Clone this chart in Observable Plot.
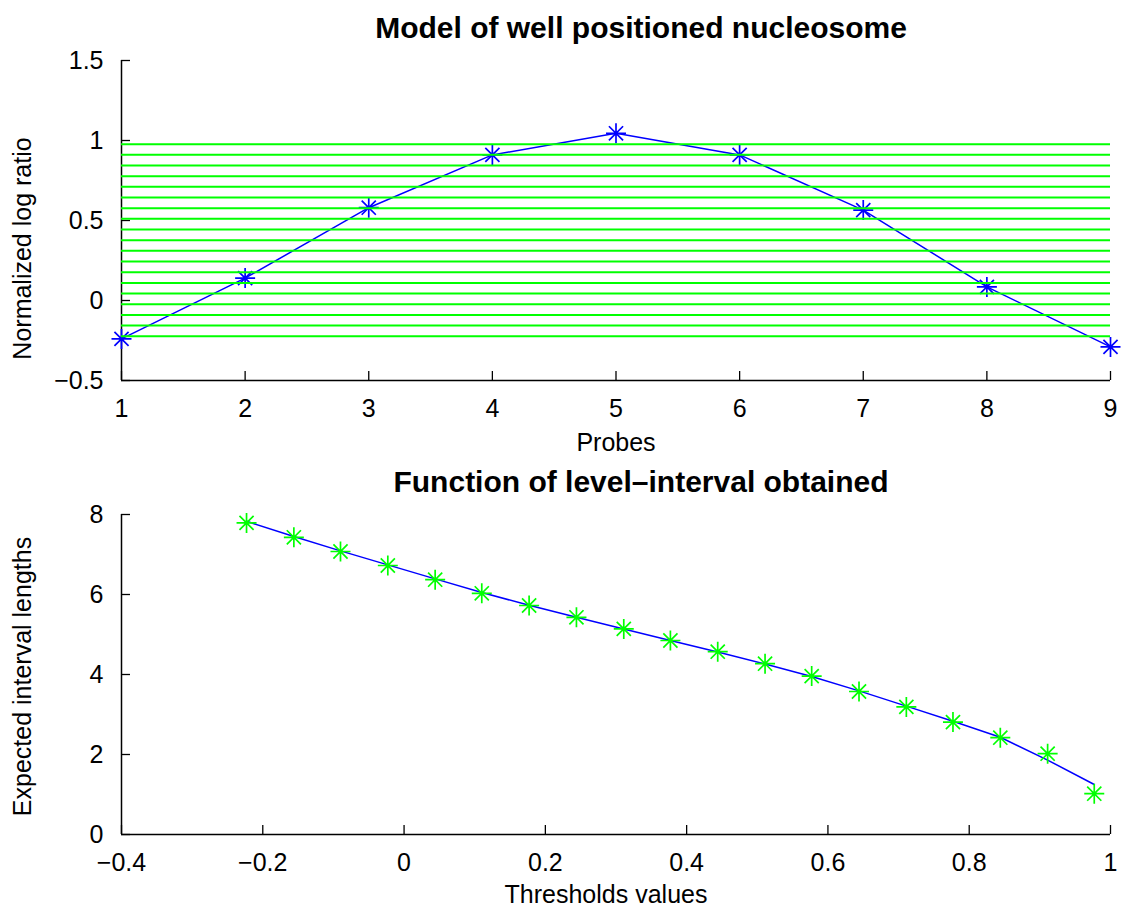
<!DOCTYPE html>
<html>
<head>
<meta charset="utf-8">
<script src="https://cdn.jsdelivr.net/npm/d3@7"></script>
<script src="https://cdn.jsdelivr.net/npm/@observablehq/plot@0.6"></script>
<style>
  html, body { margin: 0; padding: 0; background: white; }
  svg { display: block; }
</style>
</head>
<body>
<div id="chart"></div>
<script>
// ---------- data ----------
const topTitle = "Model of well positioned nucleosome";
const topXLabel = "Probes";
const topYLabel = "Normalized log ratio";
const probes = [1, 2, 3, 4, 5, 6, 7, 8, 9];
const logRatio = [-0.24, 0.14, 0.58, 0.91, 1.045, 0.91, 0.565, 0.085, -0.29];
const levelLines = [-0.223, -0.156, -0.090, -0.023, 0.044, 0.110, 0.177, 0.244, 0.311, 0.377,
                    0.444, 0.511, 0.577, 0.644, 0.711, 0.777, 0.844, 0.911, 0.977];
const topXTicks = [1, 2, 3, 4, 5, 6, 7, 8, 9];
const topYTicks = [-0.5, 0, 0.5, 1, 1.5];

const botTitle = "Function of level\u2013interval obtained";
const botXLabel = "Thresholds values";
const botYLabel = "Expected interval lengths";
const thresholds = [-0.223, -0.156, -0.090, -0.023, 0.044, 0.110, 0.177, 0.244, 0.311, 0.377,
                    0.444, 0.511, 0.577, 0.644, 0.711, 0.777, 0.844, 0.911, 0.977];
const expectedLengths = [7.79, 7.43, 7.075, 6.725, 6.37, 6.03, 5.725, 5.43, 5.14, 4.85,
                         4.57, 4.27, 3.96, 3.575, 3.19, 2.81, 2.42, 2.02, 1.02];
const fittedLengths = [7.83, 7.45, 7.09, 6.74, 6.39, 6.05, 5.73, 5.43, 5.14, 4.85,
                       4.56, 4.26, 3.95, 3.59, 3.21, 2.83, 2.43, 1.86, 1.25];
const botXTicks = [-0.4, -0.2, 0, 0.2, 0.4, 0.6, 0.8, 1];
const botYTicks = [0, 2, 4, 6, 8];

// ---------- helpers ----------
const BLUE = "#0000ff", GREEN = "#00ff00";
const FONT = "'Liberation Sans', Arial, Helvetica, sans-serif";
const asterisk = {
  draw(ctx, size) {
    const r = Math.sqrt(size / Math.PI);
    const d = r * Math.SQRT1_2;
    ctx.moveTo(-r, 0); ctx.lineTo(r, 0);
    ctx.moveTo(0, -r); ctx.lineTo(0, r);
    ctx.moveTo(-d, -d); ctx.lineTo(d, d);
    ctx.moveTo(-d, d); ctx.lineTo(d, -d);
  }
};
const fmt = d => String(d).replace("-", "\u2212");

const topData = probes.map((p, i) => ({x: p, y: logRatio[i]}));
const botData = thresholds.map((t, i) => ({x: t, y: expectedLengths[i], f: fittedLengths[i]}));

const common = {
  width: 1123,
  marginLeft: 121,
  marginRight: 13,
  style: {fontFamily: FONT, fontSize: "25px", color: "black", background: "white", overflow: "visible"}
};

const topPlot = Plot.plot({
  ...common,
  height: 460,
  marginTop: 60,
  marginBottom: 80,
  x: {domain: [1, 9], label: null},
  y: {domain: [-0.5, 1.5], label: null},
  marks: [
    Plot.axisX({ticks: topXTicks, tickSize: -9, tickPadding: 28, tickFormat: fmt, strokeWidth: 1.3}),
    Plot.axisY({ticks: topYTicks, tickSize: -9, tickPadding: 27, tickFormat: fmt, strokeWidth: 1.3}),
    Plot.ruleX([1], {stroke: "black", strokeWidth: 1.5}),
    Plot.ruleY([-0.5], {stroke: "black", strokeWidth: 1.5}),
    Plot.line(topData, {x: "x", y: "y", stroke: BLUE, strokeWidth: 1.5}),
    Plot.dot(topData, {x: "x", y: "y", r: 10, symbol: asterisk, fill: "none", stroke: BLUE, strokeWidth: 1.7}),
    Plot.ruleY(levelLines, {x1: 1, x2: 9, stroke: GREEN, strokeWidth: 2}),
    Plot.text([topTitle], {text: d => d, frameAnchor: "top", dx: 25, dy: -44, fontSize: 30, fontWeight: "bold", fill: "black"}),
    Plot.text([topXLabel], {text: d => d, frameAnchor: "bottom", dx: 0, dy: 70, fontSize: 25, fill: "black"}),
    Plot.text([topYLabel], {text: d => d, frameAnchor: "left", textAnchor: "middle", dx: -99, dy: 28, rotate: -90, fontSize: 25, fill: "black"})
  ]
});

const botPlot = Plot.plot({
  ...common,
  height: 455,
  marginTop: 54,
  marginBottom: 81,
  x: {domain: [-0.4, 1], label: null},
  y: {domain: [0, 8], label: null},
  marks: [
    Plot.axisX({ticks: botXTicks, tickSize: -9, tickPadding: 28, tickFormat: fmt, strokeWidth: 1.3}),
    Plot.axisY({ticks: botYTicks, tickSize: -9, tickPadding: 27, tickFormat: fmt, strokeWidth: 1.3}),
    Plot.ruleX([-0.4], {stroke: "black", strokeWidth: 1.5}),
    Plot.ruleY([0], {stroke: "black", strokeWidth: 1.5}),
    Plot.line(botData, {x: "x", y: "f", stroke: BLUE, strokeWidth: 1.5}),
    Plot.dot(botData, {x: "x", y: "y", r: 10, symbol: asterisk, fill: "none", stroke: GREEN, strokeWidth: 1.7}),
    Plot.text([botTitle], {text: d => d, frameAnchor: "top", dx: 25, dy: -44, fontSize: 30, fontWeight: "bold", fill: "black"}),
    Plot.text([botXLabel], {text: d => d, frameAnchor: "bottom", dx: -10, dy: 68, fontSize: 25, fill: "black"}),
    Plot.text([botYLabel], {text: d => d, frameAnchor: "left", textAnchor: "middle", dx: -99, dy: 2, rotate: -90, fontSize: 25, fill: "black"})
  ]
});

const root = document.getElementById("chart");
root.appendChild(topPlot);
root.appendChild(botPlot);
</script>
</body>
</html>
